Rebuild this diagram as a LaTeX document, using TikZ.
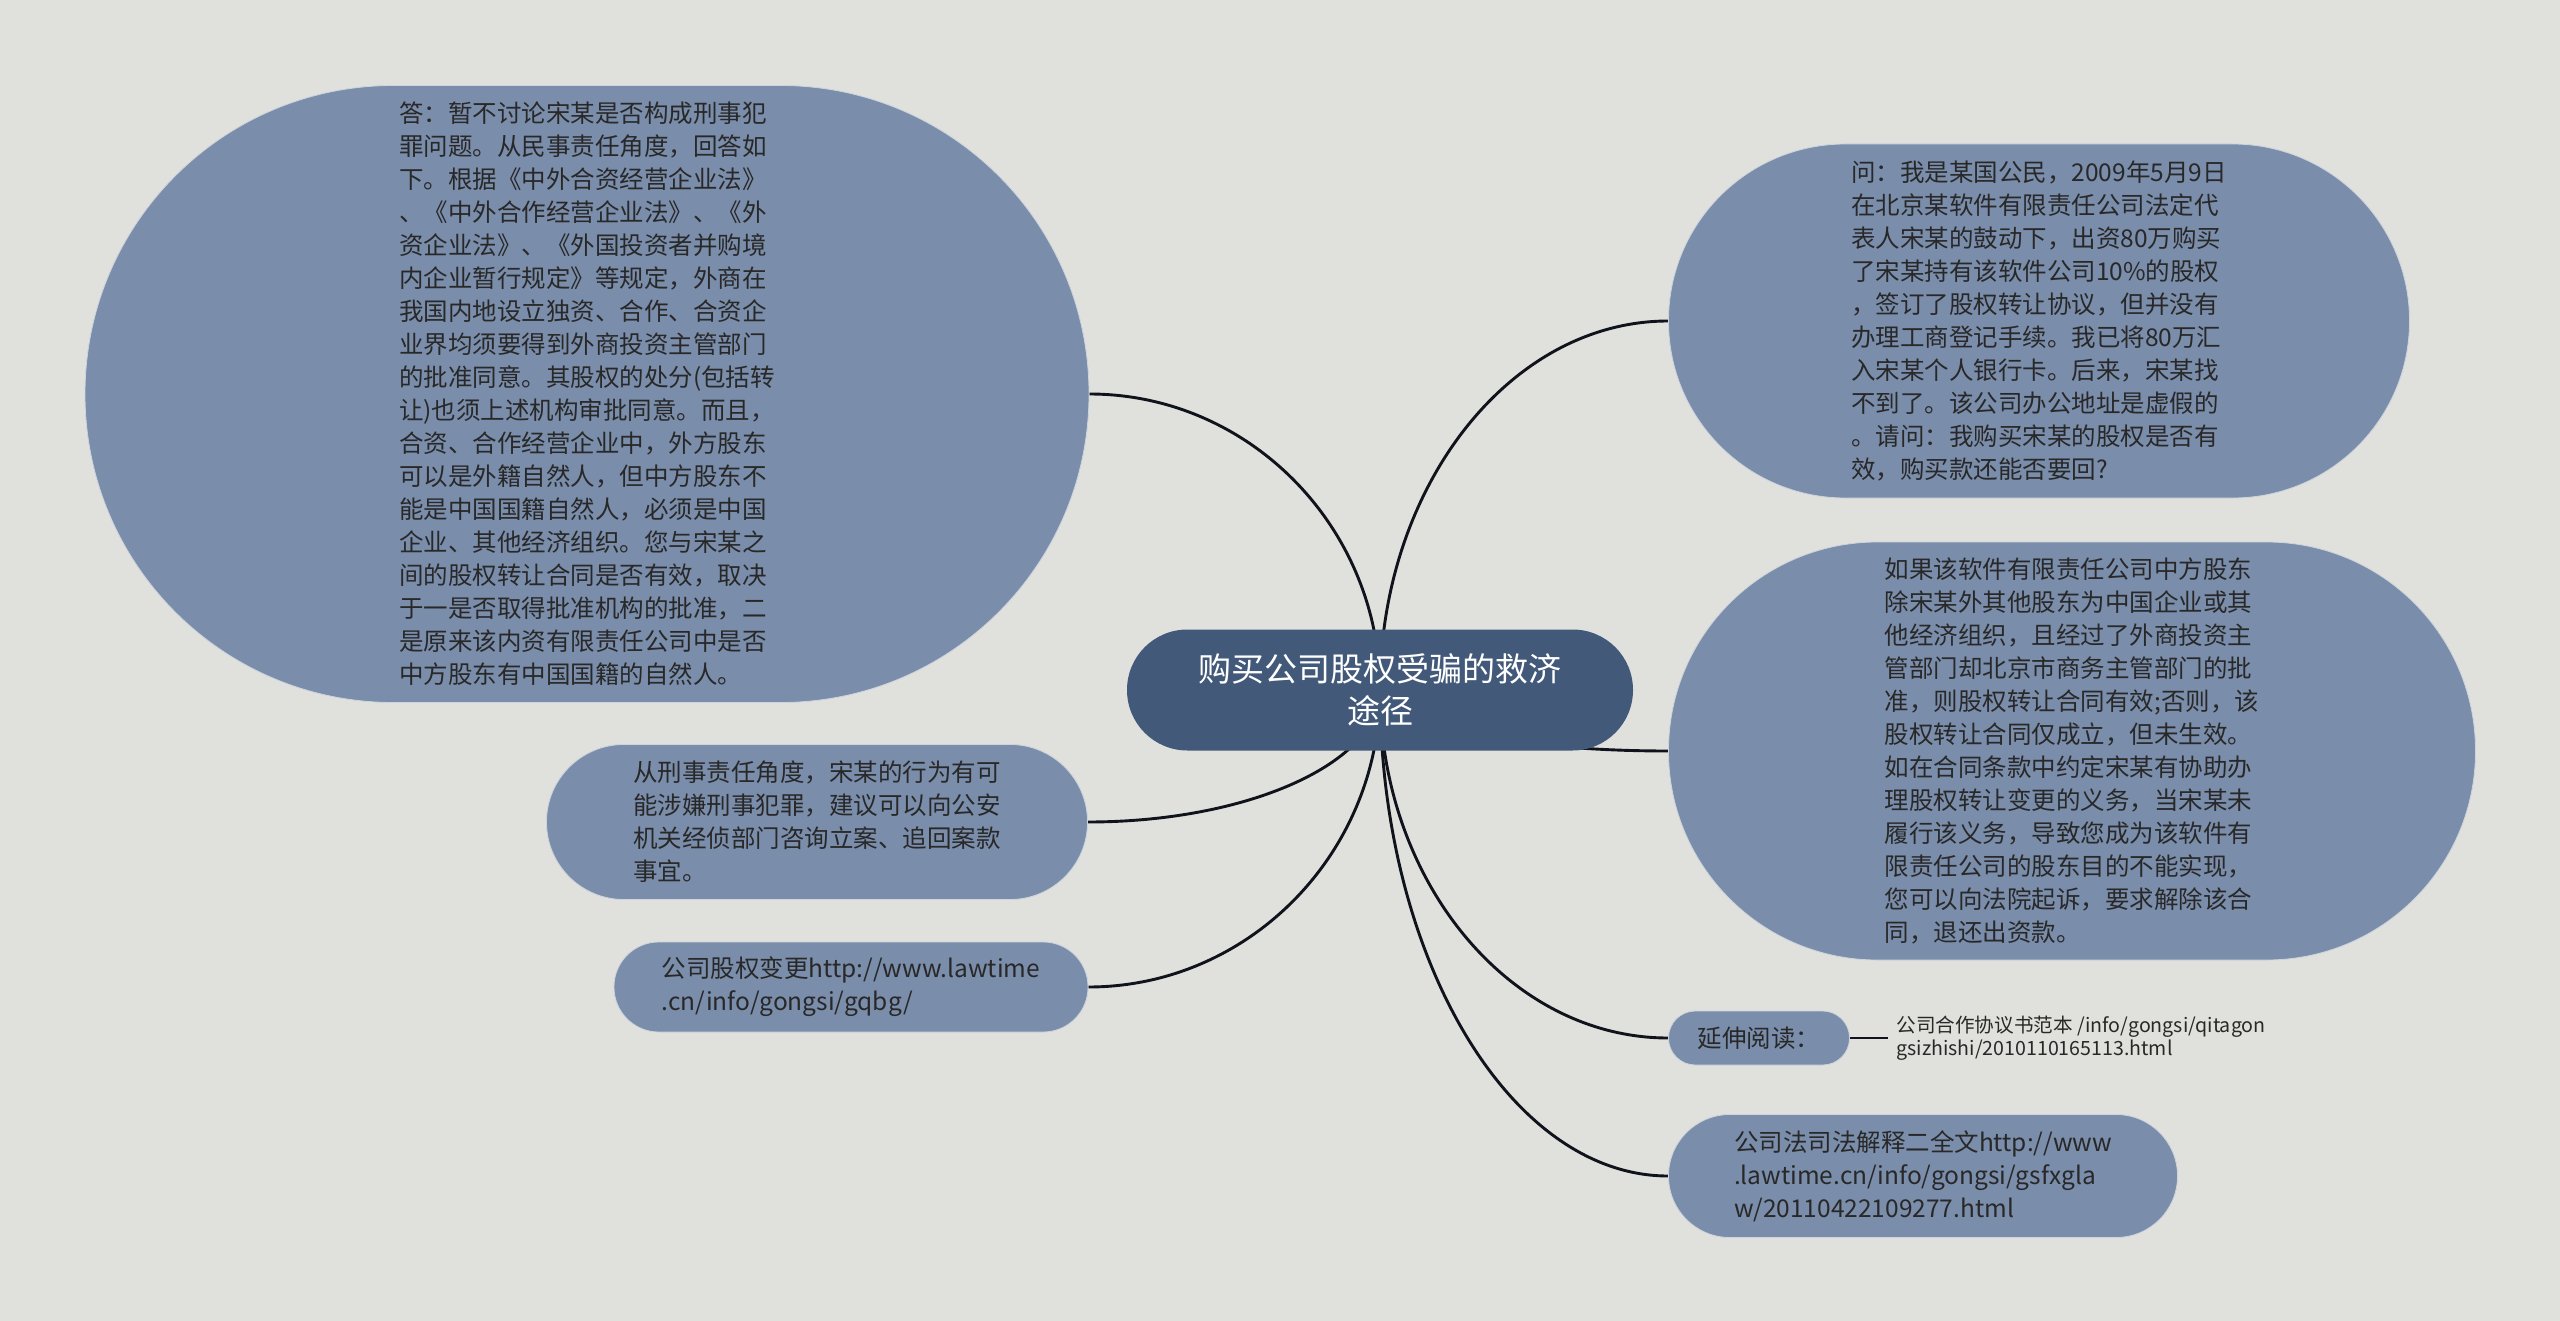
\documentclass[tikz,border=0pt]{standalone}
\usepackage{fontspec}
\setmainfont{Noto Sans CJK SC}
\usetikzlibrary{backgrounds,calc}

\definecolor{pagebg}{RGB}{224,225,220}
\definecolor{nodeblue}{RGB}{122,141,170}
\definecolor{rootblue}{RGB}{66,89,121}
\definecolor{inktext}{RGB}{40,40,40}
\definecolor{linkline}{RGB}{16,18,28}
\definecolor{rimline}{RGB}{205,212,222}

\begin{document}
\begin{tikzpicture}[x=0.5pt,y=-0.5pt,
    topic/.style={fill=rootblue,text=white,align=center,inner sep=0pt,
      font=\fontsize{16.5pt}{21pt}\selectfont},
    subtopic/.style={fill=nodeblue,draw=rimline,line width=0.4pt,text=inktext,
      align=left,inner sep=0pt,font=\fontsize{12.25pt}{16.5pt}\selectfont},
    branch/.style={draw=linkline,line width=1.45pt,
      to path={.. controls ($(\tikztostart)!0.55!(\tikztostart|-\tikztotarget)$)
        and ($(\tikztotarget)!0.55!(\tikztostart|-\tikztotarget)$) .. (\tikztotarget)}}]
                \useasboundingbox (0,0) rectangle (2560,1321);

                % Root
                \node[topic,minimum width=253pt,minimum height=60.5pt,rounded corners=30.2pt] (root) at (1380,690)
                    {购买公司股权受骗的救济\\途径};

                % Left side
                \node[subtopic,minimum width=502pt,minimum height=308.5pt,rounded corners=154.2pt] (answer) at (587,394)
                    {答：暂不讨论宋某是否构成刑事犯\\罪问题。从民事责任角度，回答如\\下。根据《中外合资经营企业法》\\、《中外合作经营企业法》、《外\\资企业法》、《外国投资者并购境\\内企业暂行规定》等规定，外商在\\我国内地设立独资、合作、合资企\\业界均须要得到外商投资主管部门\\的批准同意。其股权的处分(包括转\\让)也须上述机构审批同意。而且，\\合资、合作经营企业中，外方股东\\可以是外籍自然人，但中方股东不\\能是中国国籍自然人，必须是中国\\企业、其他经济组织。您与宋某之\\间的股权转让合同是否有效，取决\\于一是否取得批准机构的批准，二\\是原来该内资有限责任公司中是否\\中方股东有中国国籍的自然人。};
                \node[subtopic,minimum width=270.5pt,minimum height=77.5pt,rounded corners=38.7pt] (crime) at (817,822)
                    {从刑事责任角度，宋某的行为有可\\能涉嫌刑事犯罪，建议可以向公安\\机关经侦部门咨询立案、追回案款\\事宜。};
                \node[subtopic,minimum width=237pt,minimum height=45pt,rounded corners=22.4pt] (change) at (851,987)
                    {公司股权变更http://www.lawtime\\.cn/info/gongsi/gqbg/};

                % Right side
                \node[subtopic,minimum width=370.5pt,minimum height=177pt,rounded corners=88.4pt] (question) at (2039,321)
                    {问：我是某国公民，2009年5月9日\\在北京某软件有限责任公司法定代\\表人宋某的鼓动下，出资80万购买\\了宋某持有该软件公司10\%的股权\\，签订了股权转让协议，但并没有\\办理工商登记手续。我已将80万汇\\入宋某个人银行卡。后来，宋某找\\不到了。该公司办公地址是虚假的\\。请问：我购买宋某的股权是否有\\效，购买款还能否要回?};
                \node[subtopic,minimum width=403.5pt,minimum height=209pt,rounded corners=104.4pt] (remedy) at (2072,751)
                    {如果该软件有限责任公司中方股东\\除宋某外其他股东为中国企业或其\\他经济组织，且经过了外商投资主\\管部门却北京市商务主管部门的批\\准，则股权转让合同有效;否则，该\\股权转让合同仅成立，但未生效。\\如在合同条款中约定宋某有协助办\\理股权转让变更的义务，当宋某未\\履行该义务，导致您成为该软件有\\限责任公司的股东目的不能实现，\\您可以向法院起诉，要求解除该合\\同，退还出资款。};
                \node[subtopic,minimum width=90.5pt,minimum height=27pt,rounded corners=13.4pt] (further) at (1759,1038)
                    {延伸阅读：};
                \node[anchor=west,inner xsep=4pt,inner ysep=0pt,align=left,text=inktext,
                    font=\fontsize{9.8pt}{11.5pt}\selectfont] (sample) at (1888,1038)
                    {公司合作协议书范本 /info/gongsi/qitagon\\gsizhishi/2010110165113.html};
                \node[subtopic,minimum width=254.5pt,minimum height=61.5pt,rounded corners=30.7pt] (judicial) at (1923,1176)
                    {公司法司法解释二全文http://www\\.lawtime.cn/info/gongsi/gsfxgla\\w/20110422109277.html};

                % Connectors
                \begin{pgfonlayer}{background}
                    \fill[pagebg] (0,0) rectangle (2560,1321);
                    \draw[branch] (root.center) to (answer.east);
                    \draw[branch] (root.center) to (crime.east);
                    \draw[branch] (root.center) to (change.east);
                    \draw[branch] (root.center) to (question.west);
                    \draw[branch] (root.center) to (remedy.west);
                    \draw[branch] (root.center) to (further.west);
                    \draw[branch] (root.center) to (judicial.west);
                    \draw[draw=linkline,line width=1.45pt] (further.east) -- (sample.west);
                \end{pgfonlayer}
            \end{tikzpicture}
\end{document}
